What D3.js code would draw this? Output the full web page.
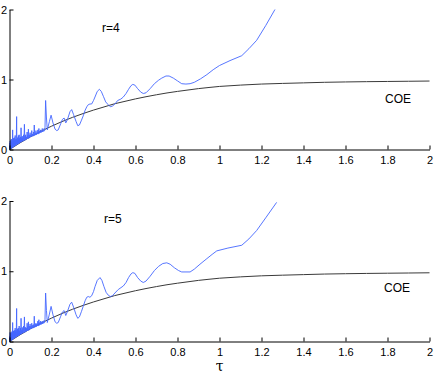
<!DOCTYPE html>
<html>
<head>
<meta charset="utf-8">
<script src="https://cdn.jsdelivr.net/npm/d3@7"></script>
<style>
body { margin: 0; background: #fff; }
svg text { font-family: "Liberation Sans", Arial, sans-serif; fill: #000; }
</style>
</head>
<body>
<svg></svg>
<script>
const width = 436;
const height = 376;

// tick labels
const xTicks = [0, 0.2, 0.4, 0.6, 0.8, 1, 1.2, 1.4, 1.6, 1.8, 2];
const yTicks = [0, 1, 2];

// COE reference curve (tau, K)
const coeTau = [0, 0.05, 0.1, 0.15, 0.2, 0.25, 0.3, 0.35, 0.4, 0.45, 0.5, 0.55, 0.6, 0.65, 0.7, 0.75, 0.8, 0.85, 0.9, 0.95, 1.0, 1.1, 1.2, 1.3, 1.4, 1.5, 1.6, 1.7, 1.8, 1.9, 2.0];
const coeK = [0, 0.095, 0.182, 0.261, 0.333, 0.399, 0.459, 0.513, 0.563, 0.608, 0.653, 0.688, 0.723, 0.754, 0.782, 0.808, 0.83, 0.85, 0.87, 0.886, 0.901, 0.92, 0.935, 0.944, 0.952, 0.96, 0.965, 0.969, 0.972, 0.975, 0.978];

// r=4 form factor
const r4 = [
[0,0],[0.001,0.09],[0.002,0.01],[0.003,0.12],[0.004,0.0],[0.005,0.08],[0.006,0.02],[0.007,0.14],[0.008,0.01],[0.009,0.1],[0.010,0.03],[0.011,0.15],[0.012,0.02],[0.013,0.11],[0.014,0.04],[0.015,0.28],[0.016,0.03],[0.017,0.12],[0.018,0.04],[0.019,0.16],[0.02,0.05],[0.021,0.13],[0.022,0.04],[0.023,0.17],[0.024,0.06],[0.025,0.12],[0.026,0.05],[0.027,0.2],[0.028,0.07],[0.029,0.13],[0.03,0.06],[0.031,0.15],[0.032,0.07],[0.034,0.47],[0.035,0.08],[0.036,0.15],[0.037,0.07],[0.038,0.17],[0.039,0.08],[0.04,0.14],[0.041,0.09],[0.042,0.2],[0.043,0.08],[0.044,0.15],[0.045,0.1],[0.046,0.21],[0.047,0.09],[0.048,0.16],[0.049,0.1],[0.05,0.13],[0.051,0.11],[0.052,0.18],[0.053,0.1],[0.055,0.31],[0.057,0.11],[0.058,0.17],[0.059,0.11],[0.061,0.19],[0.062,0.12],[0.064,0.16],[0.065,0.12],[0.067,0.21],[0.069,0.13],[0.071,0.36],[0.073,0.13],[0.074,0.19],[0.075,0.14],[0.077,0.21],[0.078,0.14],[0.08,0.18],[0.082,0.15],[0.084,0.25],[0.086,0.15],[0.087,0.2],[0.088,0.16],[0.09,0.29],[0.092,0.16],[0.094,0.21],[0.096,0.17],[0.098,0.24],[0.1,0.18],[0.102,0.21],[0.104,0.18],[0.106,0.27],[0.108,0.19],[0.11,0.22],[0.112,0.19],[0.114,0.25],[0.116,0.2],[0.118,0.35],[0.12,0.2],[0.122,0.24],[0.124,0.21],[0.126,0.27],[0.128,0.21],[0.13,0.24],[0.132,0.22],[0.135,0.28],[0.137,0.22],[0.14,0.30],[0.142,0.23],[0.144,0.26],[0.146,0.24],[0.148,0.28],[0.15,0.24],[0.152,0.26],[0.154,0.25],[0.156,0.3],[0.158,0.25],[0.16,0.27],[0.163,0.26],[0.165,0.3],[0.167,0.27],[0.169,0.31],
[0.172,0.70],[0.176,0.45],[0.18,0.28],[0.19,0.40],[0.198,0.49],[0.207,0.38],[0.217,0.29],[0.225,0.27],[0.232,0.28],[0.244,0.37],[0.252,0.43],[0.26,0.45],[0.268,0.38],[0.275,0.42],[0.288,0.54],[0.296,0.57],[0.305,0.50],[0.317,0.40],[0.325,0.34],[0.333,0.35],[0.343,0.42],[0.351,0.48],[0.36,0.56],[0.368,0.61],[0.375,0.64],[0.383,0.65],[0.391,0.65],[0.4,0.70],[0.407,0.75],[0.418,0.83],[0.428,0.86],[0.437,0.83],[0.447,0.76],[0.458,0.68],[0.47,0.64],[0.48,0.61],[0.49,0.62],[0.502,0.65],[0.515,0.70],[0.53,0.72],[0.542,0.75],[0.555,0.80],[0.567,0.86],[0.578,0.91],[0.587,0.93],[0.597,0.92],[0.61,0.87],[0.625,0.82],[0.637,0.80],[0.65,0.81],[0.67,0.87],[0.69,0.94],[0.71,0.99],[0.725,1.02],[0.745,1.05],[0.76,1.05],[0.78,1.02],[0.8,0.98],[0.82,0.94],[0.84,0.935],[0.86,0.94],[0.88,0.96],[0.91,1.01],[0.94,1.07],[0.97,1.14],[1.0,1.20],[1.05,1.27],[1.106,1.34],[1.14,1.44],[1.177,1.56],[1.22,1.77],[1.264,2.0]
];

// r=5 form factor
const r5 = [
[0,0],[0.001,0.08],[0.002,0.01],[0.003,0.13],[0.004,0.0],[0.005,0.09],[0.006,0.02],[0.007,0.12],[0.008,0.01],[0.009,0.11],[0.010,0.03],[0.011,0.14],[0.012,0.02],[0.013,0.12],[0.014,0.04],[0.015,0.27],[0.016,0.03],[0.017,0.13],[0.018,0.04],[0.019,0.15],[0.02,0.05],[0.021,0.14],[0.022,0.04],[0.023,0.16],[0.024,0.06],[0.025,0.13],[0.026,0.05],[0.027,0.19],[0.028,0.07],[0.029,0.14],[0.03,0.06],[0.031,0.16],[0.032,0.07],[0.034,0.47],[0.035,0.08],[0.036,0.14],[0.037,0.07],[0.038,0.18],[0.039,0.08],[0.04,0.15],[0.041,0.09],[0.042,0.19],[0.043,0.08],[0.044,0.16],[0.045,0.1],[0.046,0.22],[0.047,0.09],[0.048,0.15],[0.049,0.1],[0.05,0.14],[0.051,0.11],[0.052,0.19],[0.053,0.1],[0.055,0.33],[0.057,0.11],[0.058,0.16],[0.059,0.11],[0.061,0.2],[0.062,0.12],[0.064,0.17],[0.065,0.12],[0.067,0.22],[0.069,0.13],[0.071,0.35],[0.073,0.13],[0.074,0.2],[0.075,0.14],[0.077,0.2],[0.078,0.14],[0.08,0.19],[0.082,0.15],[0.084,0.26],[0.086,0.15],[0.087,0.21],[0.088,0.16],[0.09,0.28],[0.092,0.16],[0.094,0.22],[0.096,0.17],[0.098,0.25],[0.1,0.18],[0.102,0.22],[0.104,0.18],[0.106,0.26],[0.108,0.19],[0.11,0.23],[0.112,0.19],[0.114,0.24],[0.116,0.2],[0.118,0.36],[0.12,0.2],[0.122,0.25],[0.124,0.21],[0.126,0.26],[0.128,0.21],[0.13,0.25],[0.132,0.22],[0.135,0.29],[0.137,0.22],[0.14,0.31],[0.142,0.23],[0.144,0.27],[0.146,0.24],[0.148,0.29],[0.15,0.24],[0.152,0.27],[0.154,0.25],[0.156,0.29],[0.158,0.25],[0.16,0.28],[0.163,0.26],[0.165,0.3],[0.167,0.27],[0.169,0.31],
[0.172,0.69],[0.176,0.44],[0.18,0.27],[0.19,0.39],[0.198,0.50],[0.207,0.38],[0.217,0.28],[0.225,0.26],[0.232,0.27],[0.244,0.36],[0.252,0.42],[0.26,0.44],[0.268,0.37],[0.275,0.42],[0.288,0.53],[0.296,0.56],[0.305,0.49],[0.317,0.38],[0.325,0.33],[0.333,0.35],[0.343,0.43],[0.351,0.50],[0.36,0.58],[0.368,0.63],[0.375,0.64],[0.383,0.63],[0.391,0.65],[0.4,0.71],[0.407,0.78],[0.418,0.87],[0.431,0.91],[0.44,0.87],[0.45,0.78],[0.46,0.70],[0.47,0.66],[0.48,0.64],[0.49,0.65],[0.502,0.69],[0.518,0.74],[0.542,0.79],[0.555,0.84],[0.567,0.91],[0.578,0.96],[0.587,0.98],[0.597,0.97],[0.61,0.91],[0.625,0.86],[0.637,0.84],[0.65,0.86],[0.67,0.93],[0.69,1.01],[0.71,1.07],[0.73,1.11],[0.749,1.12],[0.765,1.10],[0.785,1.05],[0.805,1.01],[0.82,0.99],[0.86,0.99],[0.88,1.03],[0.907,1.10],[0.94,1.18],[0.965,1.24],[0.987,1.29],[1.04,1.33],[1.106,1.37],[1.14,1.46],[1.177,1.58],[1.22,1.76],[1.272,1.98]
];

const panels = [
    {label: 'r=4', curve: r4, top: 9.5, bottom: 149.5, labelPos: [102, 32], coePos: [385, 103]},
    {label: 'r=5', curve: r5, top: 201, bottom: 341.5, labelPos: [104, 223], coePos: [384, 292]}
];

const svg = d3.select('svg')
    .attr('width', width).attr('height', height);

const x = d3.scaleLinear().domain([0, 2]).range([9.5, 429.5]);
const coe = coeTau.map((t, i) => [t, coeK[i]]);

panels.forEach(drawPanel);

svg.append('text')
    .attr('x', x(1))
    .attr('y', 370.5)
    .attr('text-anchor', 'middle')
    .style('font-family', '"DejaVu Serif", "Liberation Serif", serif')
    .style('font-size', '14px')
    .text('τ');

function drawPanel(p) {
    const y = d3.scaleLinear().domain([0, 2]).range([p.bottom, p.top]);
    const g = svg.append('g');

    const line = d3.line()
        .x(d => x(d[0]))
        .y(d => y(d[1]));

    g.append('path')
        .datum(coe)
        .attr('d', line)
        .style('fill', 'none')
        .style('stroke', '#3a3a3a')
        .style('stroke-width', '1px');

    g.append('path')
        .datum(p.curve)
        .attr('d', line)
        .style('fill', 'none')
        .style('stroke', '#4466ff')
        .style('stroke-width', '0.9px');

    const xAxis = g.append('g')
        .attr('transform', `translate(0,${p.bottom})`)
        .call(d3.axisBottom(x).tickValues(xTicks).tickSizeInner(-4).tickSizeOuter(0).tickPadding(7).tickFormat(d3.format('')));
    const yAxis = g.append('g')
        .attr('transform', `translate(${x(0)},0)`)
        .call(d3.axisLeft(y).tickValues(yTicks).tickSizeInner(-4).tickSizeOuter(0).tickPadding(2.5).tickFormat(d3.format('')));

    [xAxis, yAxis].forEach(a => {
        a.selectAll('text').style('font-size', '11px').style('font-family', '"Liberation Sans", Arial, sans-serif');
        a.select('.domain').style('stroke', '#000');
    });

    g.append('text')
        .attr('x', p.labelPos[0]).attr('y', p.labelPos[1])
        .style('font-size', '12px')
        .text(p.label);
    g.append('text')
        .attr('x', p.coePos[0]).attr('y', p.coePos[1])
        .style('font-size', '12px')
        .text('COE');
}
</script>
</body>
</html>
